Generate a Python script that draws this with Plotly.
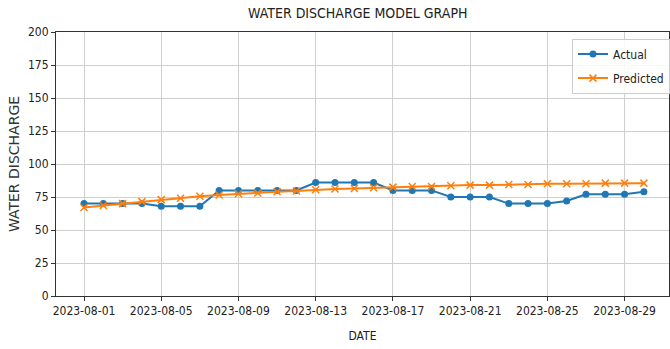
import pandas as pd
import plotly.graph_objects as go

# Daily water discharge, August 2023
dates = pd.date_range("2023-08-01", "2023-08-30", freq="D")
actual = [70, 70, 70, 70, 68, 68, 68, 80, 80, 80, 80, 80, 86, 86, 86,
          86, 80, 80, 80, 75, 75, 75, 70, 70, 70, 72, 77, 77, 77, 79]
predicted = [67, 68.5, 70, 71.5, 73, 74, 75.5, 76.5, 77.5, 78, 79, 79.5, 80.5, 81, 81.5,
             82, 82.5, 83, 83, 83.5, 84, 84, 84.5, 84.5, 85, 85, 85, 85.5, 85.5, 85.5]
y_ticks = [0, 25, 50, 75, 100, 125, 150, 175, 200]

BLUE = "#1f77b4"
ORANGE = "#ff7f0e"
COND = "DejaVu Sans Condensed, DejaVu Sans, sans-serif"

fig = go.Figure()
fig.add_trace(go.Scatter(
    x=dates, y=actual, name="Actual", mode="lines+markers", legendgroup="actual",
    line=dict(color=BLUE, width=2),
    marker=dict(symbol="circle", size=7, color=BLUE),
))
fig.add_trace(go.Scatter(
    x=dates, y=predicted, name="Predicted", mode="lines+markers", legendgroup="pred",
    line=dict(color=ORANGE, width=2),
    marker=dict(symbol="x-thin", size=7, line=dict(color=ORANGE, width=1.5)),
))

day = pd.Timedelta(days=1)
x_start = dates[0] - 1.45 * day
x_end = dates[0] + 30.3 * day

axis_common = dict(
    showgrid=True, gridcolor="#cfcfcf", gridwidth=1,
    showline=True, linecolor="#333333", linewidth=1, mirror=True,
    ticks="outside", ticklen=4, tickcolor="#333333",
    tickfont=dict(family=COND, size=12, color="#222222"),
    zeroline=False,
)

fig.update_layout(
    width=670, height=349,
    margin=dict(l=56, r=0, t=32, b=53),
    paper_bgcolor="white", plot_bgcolor="white",
    title=dict(text="WATER DISCHARGE MODEL GRAPH", x=0.534, xanchor="center",
               y=0.962, yanchor="middle",
               font=dict(family=COND, size=14, color="#222222")),
    xaxis=dict(
        range=[x_start, x_end], tick0="2023-08-01", dtick=4 * 86400000,
        tickformat="%Y-%m-%d",
        title=dict(text="DATE", font=dict(family=COND, size=12, color="#222222"),
                   standoff=14),
        **axis_common,
    ),
    yaxis=dict(
        range=[0, 200], tickvals=y_ticks,
        title=dict(text="WATER DISCHARGE",
                   font=dict(family="DejaVu Sans, sans-serif", size=14, color="#333333"),
                   standoff=5),
        **axis_common,
    ),
    legend=dict(
        x=0.842, y=0.975, xanchor="left", yanchor="top",
        bgcolor="rgba(255,255,255,0.85)", bordercolor="#cccccc", borderwidth=1,
        font=dict(family=COND, size=12, color="#222222"),
        tracegroupgap=5, itemwidth=30,
    ),
    showlegend=True,
)

fig.write_html("out.html")
